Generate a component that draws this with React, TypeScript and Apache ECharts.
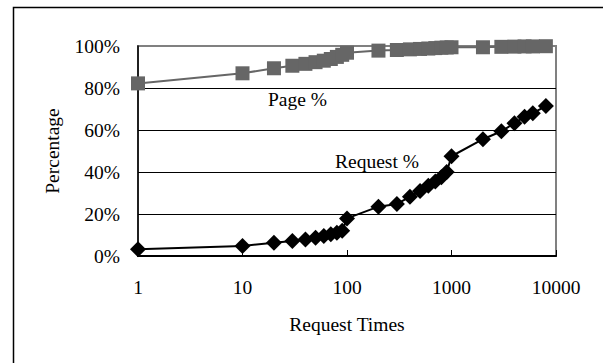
import React, { useEffect, useRef } from "react";
import * as echarts from "echarts";

const requestTimes = [1, 10, 20, 30, 40, 50, 60, 70, 80, 90, 100, 200, 300, 400, 500, 600, 700, 800, 900, 1000, 2000, 3000, 4000, 5000, 6000, 8000];
const pagePct = [82.2, 87, 89.4, 90.6, 91.5, 92.3, 93, 93.8, 94.8, 95.8, 96.8, 97.8, 98.1, 98.4, 98.6, 98.8, 99, 99.2, 99.3, 99.4, 99.4, 99.6, 99.7, 99.8, 99.8, 99.9];
const requestPct = [3.2, 4.8, 6.3, 7.1, 7.9, 8.7, 9.5, 10.3, 11.1, 12, 17.9, 23.5, 24.8, 28.2, 31, 33.5, 35.5, 37.5, 40, 47.5, 55.6, 59.4, 63.2, 66.3, 68, 71.4];
const yTicks = [0, 20, 40, 60, 80, 100];
const xAxisTitle = "Request Times";
const yAxisTitle = "Percentage";
const pageLabel = "Page %";
const requestLabel = "Request %";

const FONT = "'Liberation Serif', 'Times New Roman', serif";

export default function App() {
  const ref = useRef<HTMLDivElement>(null);
  useEffect(() => {
    if (!ref.current) return;
    const chart = echarts.init(ref.current, undefined, { renderer: "svg" });
    chart.setOption({
      animation: false,
      backgroundColor: "#ffffff",
      textStyle: { fontFamily: FONT },
      grid: {
        left: 138,
        right: 47,
        top: 46,
        bottom: 107,
        show: true,
        borderColor: "#808080",
        borderWidth: 2,
        backgroundColor: "transparent",
      },
      xAxis: {
        type: "log",
        logBase: 10,
        min: 1,
        max: 10000,
        name: xAxisTitle,
        nameLocation: "middle",
        nameGap: 58,
        nameTextStyle: { fontFamily: FONT, fontSize: 19.5, color: "#000" },
        axisLine: { show: true, lineStyle: { color: "#000", width: 2 } },
        axisTick: { show: true, inside: true, length: 6, lineStyle: { color: "#000", width: 1 } },
        axisLabel: {
          fontFamily: FONT,
          fontSize: 19.5,
          color: "#000",
          margin: 21,
          formatter: (v: number) => String(Math.round(v)),
        },
        splitLine: { show: false },
        minorTick: { show: false },
      },
      yAxis: {
        type: "value",
        min: yTicks[0],
        max: yTicks[yTicks.length - 1],
        interval: 20,
        name: yAxisTitle,
        nameLocation: "middle",
        nameGap: 76,
        nameTextStyle: { fontFamily: FONT, fontSize: 19.5, color: "#000" },
        axisLine: { show: true, lineStyle: { color: "#000", width: 1.5 } },
        axisTick: { show: false },
        axisLabel: {
          fontFamily: FONT,
          fontSize: 19.5,
          color: "#000",
          margin: 18,
          formatter: (v: number) => `${v}%`,
        },
        splitLine: {
          show: true,
          showMinLine: false,
          showMaxLine: false,
          lineStyle: { color: "#000", width: 1 },
        },
      },
      graphic: [
        {
          type: "rect",
          shape: { x: 13.5, y: 7.5, width: 700, height: 500 },
          style: { fill: "none", stroke: "#000", lineWidth: 1.5 },
          silent: true,
          z: 0,
        },
        {
          type: "text",
          x: 268,
          y: 99,
          style: { text: pageLabel, font: `19.5px ${FONT}`, fill: "#000", verticalAlign: "middle" },
          z: 10,
        },
        {
          type: "text",
          x: 335,
          y: 161,
          style: { text: requestLabel, font: `19.5px ${FONT}`, fill: "#000", verticalAlign: "middle" },
          z: 10,
        },
      ],
      series: [
        {
          name: pageLabel,
          type: "line",
          data: requestTimes.map((x, i) => [x, pagePct[i]]),
          symbol: "rect",
          symbolSize: 14,
          lineStyle: { color: "#666666", width: 2 },
          itemStyle: { color: "#666666", borderWidth: 0 },
          z: 3,
        },
        {
          name: requestLabel,
          type: "line",
          data: requestTimes.map((x, i) => [x, requestPct[i]]),
          symbol: "diamond",
          symbolSize: 16,
          lineStyle: { color: "#000000", width: 2 },
          itemStyle: { color: "#000000", borderWidth: 0 },
          z: 3,
        },
      ],
    });
    return () => chart.dispose();
  }, []);
  return (
    <div
      ref={ref}
      style={{ position: "fixed", left: 0, top: 0, width: 603, height: 363, background: "#fff" }}
    />
  );
}
